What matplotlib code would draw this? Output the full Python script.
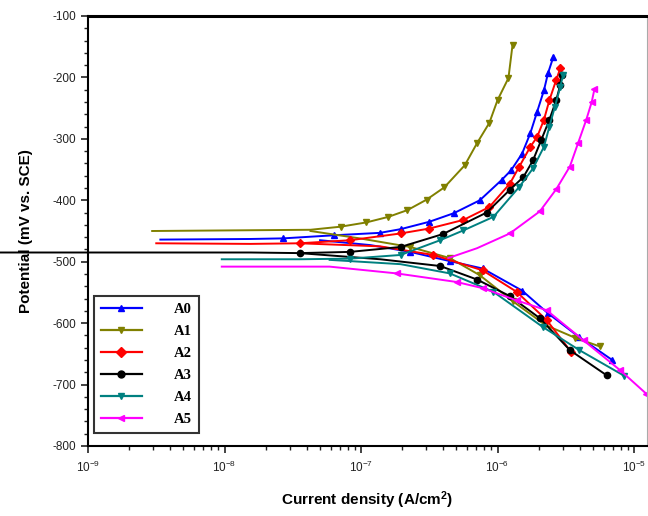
import numpy as np
import matplotlib.pyplot as plt
from matplotlib.ticker import MultipleLocator, LogLocator, NullFormatter

plt.rcParams['font.family'] = ['Liberation Sans', 'DejaVu Sans']
plt.rcParams['mathtext.default'] = 'regular'
plt.rcParams['axes.unicode_minus'] = False

# polarization curves, log10(current density / A cm^-2) and potential in mV vs SCE
labels = ['A0', 'A1', 'A2', 'A3', 'A4', 'A5']

a0_an_logi = [-8.47, -7.81, -7.57, -7.20, -6.86, -6.71, -6.50, -6.32, -6.13, -5.97, -5.90, -5.82, -5.76, -5.71, -5.66, -5.63, -5.59]
a0_an_e = [-464, -463, -462, -457, -453, -447, -435, -421, -400, -367, -351, -324, -291, -256, -221, -193, -166]
a0_ca_logi = [-7.30, -6.93, -6.64, -6.35, -6.11, -5.82, -5.63, -5.40, -5.16]
a0_ca_e = [-465, -473, -484, -499, -511, -547, -584, -623, -660]

a1_an_logi = [-8.53, -7.37, -7.15, -6.96, -6.80, -6.66, -6.52, -6.39, -6.24, -6.15, -6.06, -6.00, -5.92, -5.89]
a1_an_e = [-450, -448, -443, -436, -427, -416, -399, -379, -343, -307, -274, -237, -201, -147]
a1_ca_logi = [-7.37, -7.01, -6.64, -6.35, -6.13, -5.89, -5.65, -5.43, -5.25]
a1_ca_e = [-450, -462, -476, -494, -522, -564, -603, -624, -638]

a2_an_logi = [-8.50, -7.81, -7.45, -7.08, -6.71, -6.50, -6.25, -6.06, -5.91, -5.84, -5.76, -5.71, -5.66, -5.62, -5.57, -5.54]
a2_an_e = [-470, -471, -470, -465, -454, -446, -432, -411, -373, -345, -313, -297, -269, -237, -204, -185]
a2_ca_logi = [-7.45, -6.86, -6.47, -6.11, -5.86, -5.64, -5.46]
a2_ca_e = [-470, -475, -489, -514, -549, -595, -647]

a3_an_logi = [-9.70, -7.81, -7.45, -7.08, -6.71, -6.40, -6.08, -5.91, -5.81, -5.74, -5.68, -5.62, -5.57, -5.54, -5.53]
a3_an_e = [-485, -485, -486, -484, -476, -455, -420, -383, -362, -335, -302, -269, -237, -212, -196]
a3_ca_logi = [-7.45, -6.86, -6.42, -6.15, -5.91, -5.69, -5.47, -5.20]
a3_ca_e = [-486, -496, -507, -529, -556, -592, -644, -685]

a4_an_logi = [-8.02, -7.45, -7.08, -6.71, -6.42, -6.25, -6.03, -5.84, -5.74, -5.66, -5.62, -5.58, -5.54, -5.52]
a4_an_e = [-496, -496, -495, -489, -465, -449, -427, -378, -348, -313, -280, -248, -215, -196]
a4_ca_logi = [-7.23, -6.71, -6.35, -6.03, -5.67, -5.40, -5.07]
a4_ca_e = [-497, -504, -519, -549, -606, -644, -686]

a5_an_logi = [-6.36, -6.15, -5.91, -5.69, -5.57, -5.47, -5.41, -5.35, -5.31, -5.29]
a5_an_e = [-494, -478, -454, -418, -382, -345, -307, -269, -240, -219]
a5_ca_logi = [-8.02, -7.23, -6.74, -6.30, -6.11, -5.86, -5.64, -5.37, -5.10, -4.91]
a5_ca_e = [-508, -508, -519, -533, -543, -563, -579, -628, -677, -715]

anodic = [(a0_an_logi, a0_an_e), (a1_an_logi, a1_an_e), (a2_an_logi, a2_an_e),
          (a3_an_logi, a3_an_e), (a4_an_logi, a4_an_e), (a5_an_logi, a5_an_e)]
cathodic = [(a0_ca_logi, a0_ca_e), (a1_ca_logi, a1_ca_e), (a2_ca_logi, a2_ca_e),
            (a3_ca_logi, a3_ca_e), (a4_ca_logi, a4_ca_e), (a5_ca_logi, a5_ca_e)]

colors = ['#0000FF', '#808000', '#FF0000', '#000000', '#008080', '#FF00FF']
markers = ['^', 'v', 'D', 'o', 'v', '<']

fig = plt.figure(figsize=(6.48, 5.16), dpi=100)
ax = fig.add_axes([88 / 648, 1 - 446 / 516, 559 / 648, 430 / 516])

for i in range(6):
    for logi, e in (anodic[i], cathodic[i]):
        ax.plot(10 ** np.array(logi), e, color=colors[i], lw=1.4,
                marker=markers[i], markersize=4.5, markevery=slice(2, None),
                clip_on=(i != 3))
    ax.plot([], [], color=colors[i], lw=1.6, marker=markers[i],
            markersize=5, label=labels[i])

ax.set_xscale('log')
ax.set_xlim(1e-9, 10 ** -4.905)
ax.set_ylim(-800, -100)
ax.yaxis.set_major_locator(MultipleLocator(100))
ax.yaxis.set_minor_locator(MultipleLocator(20))
ax.xaxis.set_major_locator(LogLocator(base=10, numticks=10))
ax.xaxis.set_minor_locator(LogLocator(base=10, subs=np.arange(2, 10), numticks=20))
ax.xaxis.set_minor_formatter(NullFormatter())

ax.tick_params(which='major', direction='out', length=5, width=1.2, colors='#222222', labelsize=8.5)
ax.tick_params(which='minor', direction='out', length=3, width=1.0, colors='#222222')
ax.tick_params(axis='x', labelsize=8.5, pad=5)

for side in ['left', 'bottom']:
    ax.spines[side].set_linewidth(1.5)
ax.spines['top'].set_linewidth(2.2)
ax.spines['right'].set_linewidth(0.8)
ax.spines['right'].set_color('#aaaaaa')

ax.set_xlabel('Current density (A/cm$^2$)', fontsize=11, fontweight='bold', labelpad=10)
ax.set_ylabel('Potential (mV vs. SCE)', fontsize=11, fontweight='bold', labelpad=14)

leg = ax.legend(loc='lower left', bbox_to_anchor=(0.01, 0.03), borderaxespad=0,
                frameon=True, fancybox=False, handlelength=2.8, handletextpad=2.2,
                labelspacing=0.6, borderpad=0.5,
                prop={'family': 'Liberation Serif', 'weight': 'bold', 'size': 10.5})
leg.get_frame().set_edgecolor('black')
leg.get_frame().set_linewidth(1.5)

fig.savefig('out.png', dpi=100)
